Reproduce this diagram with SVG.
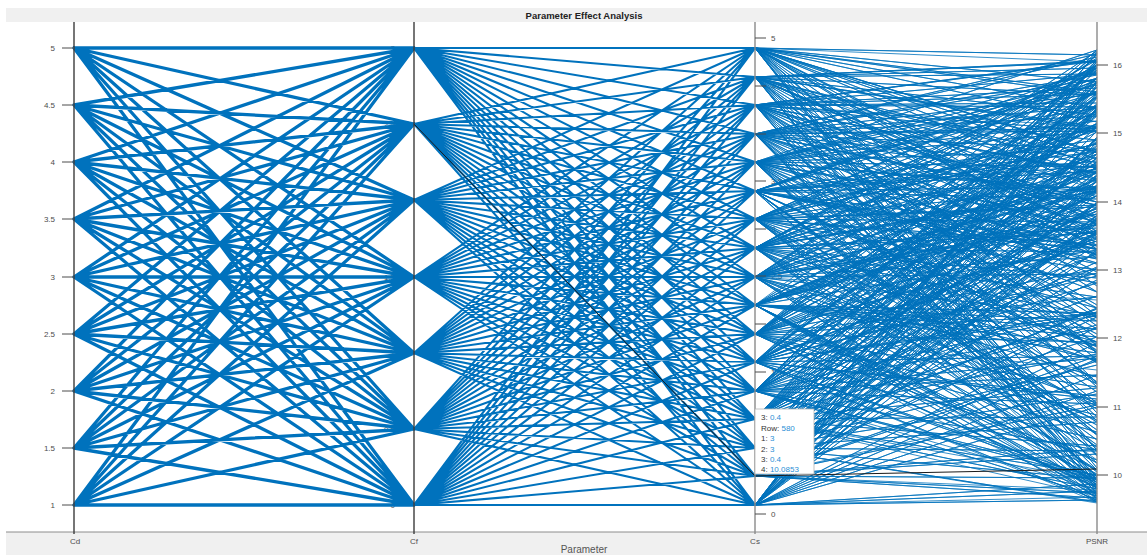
<svg xmlns="http://www.w3.org/2000/svg" width="1147" height="555" viewBox="0 0 1147 555">
<style>
.t{font-family:"Liberation Sans",Arial,sans-serif;font-size:8px;fill:#4d4d4d}
.ttl{font-family:"Liberation Sans",Arial,sans-serif;font-size:9.5px;font-weight:bold;fill:#222}
.xl{font-family:"Liberation Sans",Arial,sans-serif;font-size:10px;fill:#555}
.ax{stroke:#3c3c3c;stroke-width:1.4}
.ax2{stroke:#8a8a8a;stroke-width:1.4}
.tk{stroke:#4d4d4d;stroke-width:1}
.l1{stroke:#0072BD;stroke-width:3.3;fill:none;stroke-linejoin:round;stroke-linecap:round}
.l2{stroke:#0072BD;stroke-width:2.1;fill:none;stroke-linejoin:round}
.l3{stroke:#0072BD;stroke-width:0.8;fill:none;stroke-linejoin:round}
.dt{font-family:"Liberation Sans",Arial,sans-serif;font-size:8px;fill:#333}
.dv{fill:#2b8fd6}
</style>
<rect width="1147" height="555" fill="#fff"/>
<rect x="6" y="8" width="1141" height="14" fill="#f0f0f0"/>
<rect x="6" y="532" width="1141" height="23" fill="#f0f0f0"/>
<line x1="6" y1="532" x2="1147" y2="532" stroke="#8c8c8c"/>
<g id="title"><text class="ttl" x="584" y="19" text-anchor="middle">Parameter Effect Analysis</text></g>

<g id="hidden-labels">
<g class="t" text-anchor="end">
<text x="395" y="508">0</text><text x="395" y="432">0.5</text><text x="395" y="356">1</text><text x="395" y="280">1.5</text><text x="395" y="203">2</text><text x="395" y="127">2.5</text><text x="395" y="51">3</text>
</g>
<g class="t">
<text x="771" y="375">1.5</text><text x="771" y="327">2</text><text x="771" y="279">2.5</text><text x="771" y="232">3</text><text x="771" y="184">3.5</text><text x="771" y="137">4</text><text x="771" y="89">4.5</text>
</g>
</g>

<g id="connectors">
<path class="l1" d="M414 48L74 48 414 124 74 48 414 200 74 48 414 277 74 48 414 353 74 48 414 429 74 48 414 505
M414 48L74 105 414 124 74 105 414 200 74 105 414 277 74 105 414 353 74 105 414 429 74 105 414 505
M414 48L74 162 414 124 74 162 414 200 74 162 414 277 74 162 414 353 74 162 414 429 74 162 414 505
M414 48L74 219 414 124 74 219 414 200 74 219 414 277 74 219 414 353 74 219 414 429 74 219 414 505
M414 48L74 277 414 124 74 277 414 200 74 277 414 277 74 277 414 353 74 277 414 429 74 277 414 505
M414 48L74 334 414 124 74 334 414 200 74 334 414 277 74 334 414 353 74 334 414 429 74 334 414 505
M414 48L74 391 414 124 74 391 414 200 74 391 414 277 74 391 414 353 74 391 414 429 74 391 414 505
M414 48L74 448 414 124 74 448 414 200 74 448 414 277 74 448 414 353 74 448 414 429 74 448 414 505
M414 48L74 505 414 124 74 505 414 200 74 505 414 277 74 505 414 353 74 505 414 429 74 505 414 505"/>
<path class="l2" d="M755 48L414 48 755 77 414 48 755 105 414 48 755 134 414 48 755 162 414 48 755 191 414 48 755 219 414 48 755 248 414 48 755 277 414 48 755 305 414 48 755 334 414 48 755 362 414 48 755 391 414 48 755 419 414 48 755 448 414 48 755 476 414 48 755 505
M755 48L414 124 755 77 414 124 755 105 414 124 755 134 414 124 755 162 414 124 755 191 414 124 755 219 414 124 755 248 414 124 755 277 414 124 755 305 414 124 755 334 414 124 755 362 414 124 755 391 414 124 755 419 414 124 755 448 414 124 755 476 414 124 755 505
M755 48L414 200 755 77 414 200 755 105 414 200 755 134 414 200 755 162 414 200 755 191 414 200 755 219 414 200 755 248 414 200 755 277 414 200 755 305 414 200 755 334 414 200 755 362 414 200 755 391 414 200 755 419 414 200 755 448 414 200 755 476 414 200 755 505
M755 48L414 277 755 77 414 277 755 105 414 277 755 134 414 277 755 162 414 277 755 191 414 277 755 219 414 277 755 248 414 277 755 277 414 277 755 305 414 277 755 334 414 277 755 362 414 277 755 391 414 277 755 419 414 277 755 448 414 277 755 476 414 277 755 505
M755 48L414 353 755 77 414 353 755 105 414 353 755 134 414 353 755 162 414 353 755 191 414 353 755 219 414 353 755 248 414 353 755 277 414 353 755 305 414 353 755 334 414 353 755 362 414 353 755 391 414 353 755 419 414 353 755 448 414 353 755 476 414 353 755 505
M755 48L414 429 755 77 414 429 755 105 414 429 755 134 414 429 755 162 414 429 755 191 414 429 755 219 414 429 755 248 414 429 755 277 414 429 755 305 414 429 755 334 414 429 755 362 414 429 755 391 414 429 755 419 414 429 755 448 414 429 755 476 414 429 755 505
M755 48L414 505 755 77 414 505 755 105 414 505 755 134 414 505 755 162 414 505 755 191 414 505 755 219 414 505 755 248 414 505 755 277 414 505 755 305 414 505 755 334 414 505 755 362 414 505 755 391 414 505 755 419 414 505 755 448 414 505 755 476 414 505 755 505"/>
<path class="l3" d="M1097 62L755 48 1097 159 755 48 1097 256 755 48 1097 353 755 48 1097 450 755 48 1097 92 755 48 1097 189 755 48 1097 286 755 48 1097 383 755 48 1097 480 755 48 1097 122 755 48 1097 219 755 48 1097 316 755 48 1097 413 755 48 1097 55 755 48 1097 152 755 48 1097 249 755 48 1097 346 755 48 1097 82 755 48 1097 153 755 48 1097 224 755 48 1097 95 755 48 1097 166 755 48 1097 237 755 48 1097 108 755 48 1097 179 755 48 1097 468 755 48 1097 485
M1097 190L755 77 1097 353 755 77 1097 61 755 77 1097 224 755 77 1097 387 755 77 1097 95 755 77 1097 258 755 77 1097 421 755 77 1097 129 755 77 1097 292 755 77 1097 455 755 77 1097 163 755 77 1097 326 755 77 1097 489 755 77 1097 197 755 77 1097 360 755 77 1097 68 755 77 1097 231 755 77 1097 62 755 77 1097 115 755 77 1097 168 755 77 1097 221 755 77 1097 74 755 77 1097 127 755 77 1097 180 755 77 1097 233 755 77 1097 481 755 77 1097 492
M1097 127L755 105 1097 338 755 105 1097 94 755 105 1097 305 755 105 1097 61 755 105 1097 272 755 105 1097 483 755 105 1097 239 755 105 1097 450 755 105 1097 206 755 105 1097 417 755 105 1097 173 755 105 1097 384 755 105 1097 140 755 105 1097 351 755 105 1097 107 755 105 1097 318 755 105 1097 74 755 105 1097 202 755 105 1097 245 755 105 1097 88 755 105 1097 131 755 105 1097 174 755 105 1097 217 755 105 1097 60 755 105 1097 103 755 105 1097 494 755 105 1097 499
M1097 350L755 134 1097 477 755 134 1097 149 755 134 1097 276 755 134 1097 403 755 134 1097 75 755 134 1097 202 755 134 1097 329 755 134 1097 456 755 134 1097 128 755 134 1097 255 755 134 1097 382 755 134 1097 54 755 134 1097 181 755 134 1097 308 755 134 1097 435 755 134 1097 107 755 134 1097 234 755 134 1097 57 755 134 1097 94 755 134 1097 131 755 134 1097 168 755 134 1097 205 755 134 1097 242 755 134 1097 79 755 134 1097 116 755 134 1097 470 755 134 1097 486
M1097 250L755 162 1097 321 755 162 1097 392 755 162 1097 463 755 162 1097 79 755 162 1097 150 755 162 1097 221 755 162 1097 292 755 162 1097 363 755 162 1097 434 755 162 1097 50 755 162 1097 121 755 162 1097 192 755 162 1097 263 755 162 1097 334 755 162 1097 405 755 162 1097 476 755 162 1097 92 755 162 1097 72 755 162 1097 131 755 162 1097 190 755 162 1097 249 755 162 1097 108 755 162 1097 167 755 162 1097 226 755 162 1097 85 755 162 1097 483 755 162 1097 493
M1097 83L755 191 1097 264 755 191 1097 445 755 191 1097 171 755 191 1097 352 755 191 1097 78 755 191 1097 259 755 191 1097 440 755 191 1097 166 755 191 1097 347 755 191 1097 73 755 191 1097 254 755 191 1097 435 755 191 1097 161 755 191 1097 342 755 191 1097 68 755 191 1097 249 755 191 1097 430 755 191 1097 152 755 191 1097 199 755 191 1097 246 755 191 1097 93 755 191 1097 140 755 191 1097 187 755 191 1097 234 755 191 1097 81 755 191 1097 496 755 191 1097 500
M1097 460L755 219 1097 144 755 219 1097 283 755 219 1097 422 755 219 1097 106 755 219 1097 245 755 219 1097 384 755 219 1097 68 755 219 1097 207 755 219 1097 346 755 219 1097 485 755 219 1097 169 755 219 1097 308 755 219 1097 447 755 219 1097 131 755 219 1097 270 755 219 1097 409 755 219 1097 93 755 219 1097 222 755 219 1097 83 755 219 1097 144 755 219 1097 205 755 219 1097 66 755 219 1097 127 755 219 1097 188 755 219 1097 249 755 219 1097 472 755 219 1097 487
M1097 105L755 248 1097 278 755 248 1097 451 755 248 1097 169 755 248 1097 342 755 248 1097 60 755 248 1097 233 755 248 1097 406 755 248 1097 124 755 248 1097 297 755 248 1097 470 755 248 1097 188 755 248 1097 361 755 248 1097 79 755 248 1097 252 755 248 1097 425 755 248 1097 143 755 248 1097 316 755 248 1097 112 755 248 1097 191 755 248 1097 70 755 248 1097 149 755 248 1097 228 755 248 1097 107 755 248 1097 186 755 248 1097 65 755 248 1097 485 755 248 1097 494
M1097 300L755 277 1097 403 755 277 1097 51 755 277 1097 154 755 277 1097 257 755 277 1097 360 755 277 1097 463 755 277 1097 111 755 277 1097 214 755 277 1097 317 755 277 1097 420 755 277 1097 68 755 277 1097 171 755 277 1097 274 755 277 1097 377 755 277 1097 480 755 277 1097 128 755 277 1097 231 755 277 1097 192 755 277 1097 225 755 277 1097 58 755 277 1097 91 755 277 1097 124 755 277 1097 157 755 277 1097 190 755 277 1097 223 755 277 1097 498 755 277 1097 501
M1097 55L755 305 1097 204 755 305 1097 353 755 305 1097 502 755 305 1097 196 755 305 1097 345 755 305 1097 494 755 305 1097 188 755 305 1097 337 755 305 1097 486 755 305 1097 180 755 305 1097 329 755 305 1097 478 755 305 1097 172 755 305 1097 321 755 305 1097 470 755 305 1097 164 755 305 1097 313 755 305 1097 127 755 305 1097 168 755 305 1097 209 755 305 1097 250 755 305 1097 91 755 305 1097 132 755 305 1097 173 755 305 1097 214 755 305 1097 474 755 305 1097 488
M1097 370L755 334 1097 106 755 334 1097 297 755 334 1097 488 755 334 1097 224 755 334 1097 415 755 334 1097 151 755 334 1097 342 755 334 1097 78 755 334 1097 269 755 334 1097 460 755 334 1097 196 755 334 1097 387 755 334 1097 123 755 334 1097 314 755 334 1097 50 755 334 1097 241 755 334 1097 432 755 334 1097 97 755 334 1097 154 755 334 1097 211 755 334 1097 68 755 334 1097 125 755 334 1097 182 755 334 1097 239 755 334 1097 96 755 334 1097 487 755 334 1097 495
M1097 230L755 362 1097 313 755 362 1097 396 755 362 1097 479 755 362 1097 107 755 362 1097 190 755 362 1097 273 755 362 1097 356 755 362 1097 439 755 362 1097 67 755 362 1097 150 755 362 1097 233 755 362 1097 316 755 362 1097 399 755 362 1097 482 755 362 1097 110 755 362 1097 193 755 362 1097 276 755 362 1097 52 755 362 1097 115 755 362 1097 178 755 362 1097 241 755 362 1097 104 755 362 1097 167 755 362 1097 230 755 362 1097 93 755 362 1097 500 755 362 1097 502
M1097 145L755 391 1097 312 755 391 1097 479 755 391 1097 191 755 391 1097 358 755 391 1097 70 755 391 1097 237 755 391 1097 404 755 391 1097 116 755 391 1097 283 755 391 1097 450 755 391 1097 162 755 391 1097 329 755 391 1097 496 755 391 1097 208 755 391 1097 375 755 391 1097 87 755 391 1097 254 755 391 1097 64 755 391 1097 113 755 391 1097 162 755 391 1097 211 755 391 1097 60 755 391 1097 109 755 391 1097 158 755 391 1097 207 755 391 1097 476 755 391 1097 489
M1097 480L755 419 1097 146 755 419 1097 267 755 419 1097 388 755 419 1097 54 755 419 1097 175 755 419 1097 296 755 419 1097 417 755 419 1097 83 755 419 1097 204 755 419 1097 325 755 419 1097 446 755 419 1097 112 755 419 1097 233 755 419 1097 354 755 419 1097 475 755 419 1097 141 755 419 1097 262 755 419 1097 172 755 419 1097 203 755 419 1097 234 755 419 1097 65 755 419 1097 96 755 419 1097 127 755 419 1097 158 755 419 1097 189 755 419 1097 489 755 419 1097 496
M1097 110L755 448 1097 309 755 448 1097 53 755 448 1097 252 755 448 1097 451 755 448 1097 195 755 448 1097 394 755 448 1097 138 755 448 1097 337 755 448 1097 81 755 448 1097 280 755 448 1097 479 755 448 1097 223 755 448 1097 422 755 448 1097 166 755 448 1097 365 755 448 1097 109 755 448 1097 308 755 448 1097 77 755 448 1097 154 755 448 1097 231 755 448 1097 108 755 448 1097 185 755 448 1097 62 755 448 1097 139 755 448 1097 216 755 448 1097 502 755 448 1097 503
M1097 400L755 476 1097 82 755 476 1097 219 755 476 1097 356 755 476 1097 493 755 476 1097 175 755 476 1097 312 755 476 1097 449 755 476 1097 131 755 476 1097 268 755 476 1097 405 755 476 1097 87 755 476 1097 224 755 476 1097 361 755 476 1097 498 755 476 1097 180 755 476 1097 317 755 476 1097 454 755 476 1097 232 755 476 1097 85 755 476 1097 138 755 476 1097 191 755 476 1097 244 755 476 1097 97 755 476 1097 150 755 476 1097 203 755 476 1097 478 755 476 1097 490
M1097 170L755 505 1097 327 755 505 1097 484 755 505 1097 186 755 505 1097 343 755 505 1097 500 755 505 1097 202 755 505 1097 359 755 505 1097 61 755 505 1097 218 755 505 1097 375 755 505 1097 77 755 505 1097 234 755 505 1097 391 755 505 1097 93 755 505 1097 250 755 505 1097 407 755 505 1097 109 755 505 1097 142 755 505 1097 181 755 505 1097 220 755 505 1097 59 755 505 1097 98 755 505 1097 137 755 505 1097 176 755 505 1097 215 755 505 1097 491 755 505 1097 497"/>
<path d="M414 124L755 476 1097 469" fill="none" stroke="#1a1a1a" stroke-width="1"/>
</g>

<g id="axis-cd">
<line class="ax" x1="74" y1="22" x2="74" y2="534"/>
<g class="tk">
<line x1="62" y1="48" x2="74" y2="48"/><line x1="62" y1="105" x2="74" y2="105"/><line x1="62" y1="162" x2="74" y2="162"/><line x1="62" y1="219" x2="74" y2="219"/><line x1="62" y1="277" x2="74" y2="277"/><line x1="62" y1="334" x2="74" y2="334"/><line x1="62" y1="391" x2="74" y2="391"/><line x1="62" y1="448" x2="74" y2="448"/><line x1="62" y1="505" x2="74" y2="505"/>
</g>
<g class="t" text-anchor="end">
<text x="55" y="51">5</text><text x="55" y="108">4.5</text><text x="55" y="165">4</text><text x="55" y="222">3.5</text><text x="55" y="280">3</text><text x="55" y="337">2.5</text><text x="55" y="394">2</text><text x="55" y="451">1.5</text><text x="55" y="508">1</text>
</g>
<text class="t" x="75" y="544" text-anchor="middle">Cd</text>
</g>

<g id="axis-cf">
<line class="ax" x1="414" y1="22" x2="414" y2="534"/>
<text class="t" x="414" y="544" text-anchor="middle">Cf</text>
</g>

<g id="axis-cs">
<line class="ax2" x1="755" y1="22" x2="755" y2="534"/>
<g class="tk">
<line x1="755" y1="38" x2="766" y2="38"/><line x1="755" y1="86" x2="766" y2="86"/><line x1="755" y1="134" x2="766" y2="134"/><line x1="755" y1="181" x2="766" y2="181"/><line x1="755" y1="229" x2="766" y2="229"/><line x1="755" y1="276" x2="766" y2="276"/><line x1="755" y1="324" x2="766" y2="324"/><line x1="755" y1="372" x2="766" y2="372"/><line x1="755" y1="419" x2="766" y2="419"/><line x1="755" y1="467" x2="766" y2="467"/><line x1="755" y1="514" x2="766" y2="514"/>
</g>
<g class="t"><text x="771" y="41">5</text><text x="771" y="517">0</text></g>
<text class="t" x="755" y="544" text-anchor="middle">Cs</text>
</g>

<g id="axis-psnr">
<line class="ax2" x1="1097" y1="22" x2="1097" y2="534"/>
<g class="tk">
<line x1="1097" y1="65" x2="1108" y2="65"/><line x1="1097" y1="133" x2="1108" y2="133"/><line x1="1097" y1="202" x2="1108" y2="202"/><line x1="1097" y1="270" x2="1108" y2="270"/><line x1="1097" y1="338" x2="1108" y2="338"/><line x1="1097" y1="407" x2="1108" y2="407"/><line x1="1097" y1="475" x2="1108" y2="475"/>
</g>
<g class="t">
<text x="1113" y="68">16</text><text x="1113" y="136">15</text><text x="1113" y="205">14</text><text x="1113" y="273">13</text><text x="1113" y="341">12</text><text x="1113" y="410">11</text><text x="1113" y="478">10</text>
</g>
<text class="t" x="1097" y="544" text-anchor="middle">PSNR</text>
</g>

<g id="xlabel"><text class="xl" x="584" y="553" text-anchor="middle">Parameter</text></g>

<g id="datatip">
<rect x="755" y="409" width="59" height="65" fill="#fff" stroke="#b5b5b5" stroke-width="0.8"/>
<g class="dt">
<text x="761" y="420">3: <tspan class="dv">0.4</tspan></text>
<text x="761" y="430.5">Row: <tspan class="dv">580</tspan></text>
<text x="761" y="441">1: <tspan class="dv">3</tspan></text>
<text x="761" y="451.5">2: <tspan class="dv">3</tspan></text>
<text x="761" y="462">3: <tspan class="dv">0.4</tspan></text>
<text x="761" y="472">4: <tspan class="dv">10.0853</tspan></text>
</g>
</g>
</svg>
